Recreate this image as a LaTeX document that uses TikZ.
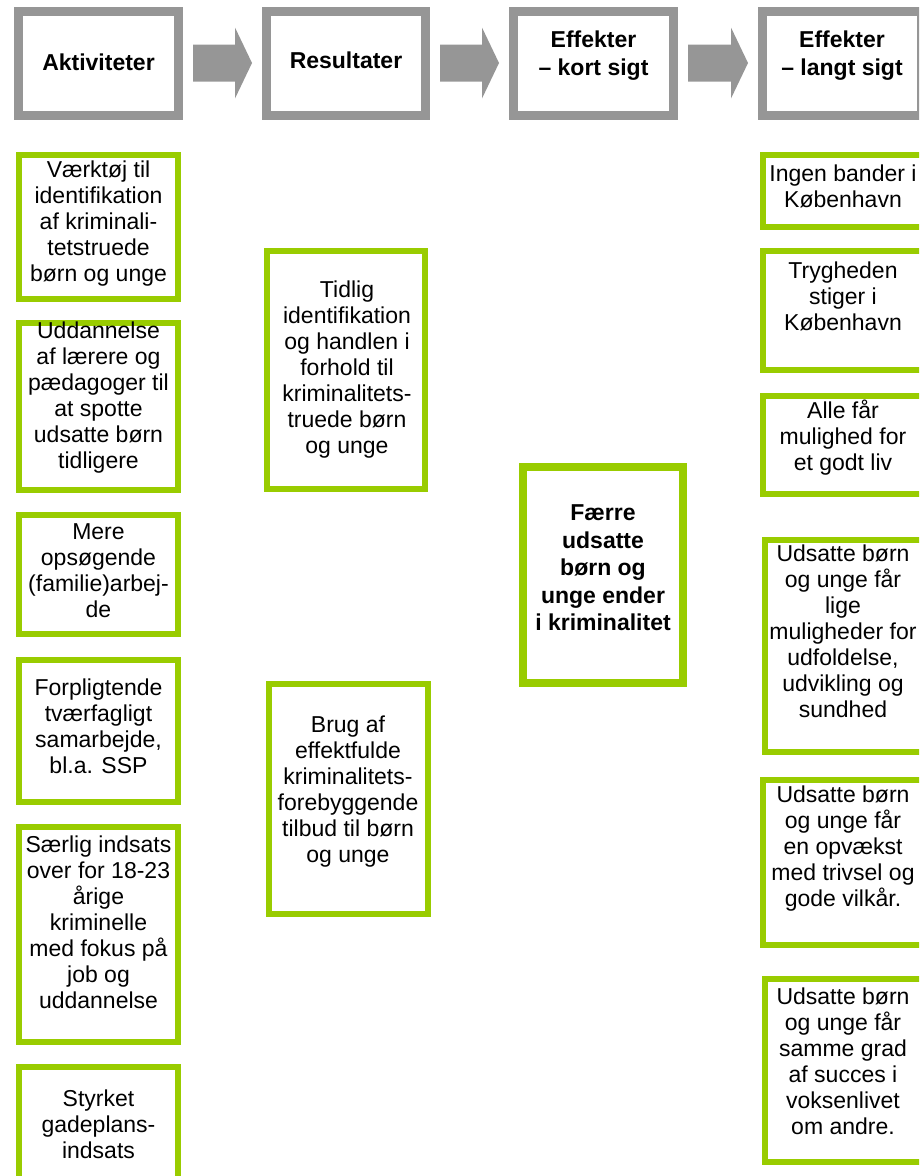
\documentclass[tikz,border=0pt]{standalone}
\usepackage{fontspec}
\setmainfont{Liberation Sans}
\usetikzlibrary{calc}
\definecolor{graa}{RGB}{150,150,150}
\definecolor{groen}{RGB}{153,204,0}
\tikzset{
  hoved/.style={draw=graa, line width=9pt, minimum width=160pt, minimum height=104pt, inner sep=0pt},
  hovedtekst/.style={align=center, font=\fontsize{23}{28}\selectfont\bfseries},
  boks/.style={draw=groen, line width=6pt, inner sep=0pt},
  tekst/.style={align=center, font=\fontsize{23}{26}\selectfont},
}
\begin{document}
\begin{tikzpicture}[x=1pt, y=-1pt]
      \useasboundingbox (0,0) rectangle (919,1176);
      \clip (0,0) rectangle (919,1176);
      % overskrifter
      \node [hoved] (akt) at (98.5,63) {};
      \node [hoved, minimum width=159pt] (res) at (346,63) {};
      \node [hoved] (kort) at (593.5,63) {};
      \node [hoved, minimum width=159pt] (lang) at (842,63) {};
      \node [hovedtekst] (akt-t) at (98.5,62) {Aktiviteter};
      \node [hovedtekst] (res-t) at (346,60) {Resultater};
      \node [hovedtekst] (kort-t) at (593.5,56) {Effekter\\– kort sigt};
      \node [hovedtekst] (lang-t) at (842,56) {Effekter\\– langt sigt};
      \foreach \fra/\til in {akt/res, res/kort, kort/lang}
        \fill [graa] ($(\fra.east)+(10,-18.5)$) -- ($(\til.west)+(-27,-18.5)$)
          -- ($(\til.west)+(-27,-35.5)$) -- ($(\til.west)+(-10,0)$)
          -- ($(\til.west)+(-27,35.5)$) -- ($(\til.west)+(-27,18.5)$)
          -- ($(\fra.east)+(10,18.5)$) -- cycle;
      % aktiviteter
      \node [boks, minimum width=159pt, minimum height=144pt] (a1) at (98.5,227) {};
      \node [boks, minimum width=159pt, minimum height=167pt] (a2) at (98.5,406.5) {};
      \node [boks, minimum width=159pt, minimum height=119pt] (a3) at (98.5,574.5) {};
      \node [boks, minimum width=159pt, minimum height=142pt] (a4) at (98.5,731) {};
      \node [boks, minimum width=159pt, minimum height=215pt] (a5) at (98.5,934.5) {};
      \node [boks, minimum width=159pt, minimum height=130pt] (a6) at (98.5,1132) {};
      \node [tekst] (a1-t) at (98.5,224) {Værktøj til\\identifikation\\af kriminali-\\tetstruede\\børn og unge};
      \node [tekst] (a2-t) at (98.5,397.5) {Uddannelse\\af lærere og\\pædagoger til\\at spotte\\udsatte børn\\tidligere};
      \node [tekst] (a3-t) at (98.5,571) {Mere\\opsøgende\\(familie)arbej-\\de};
      \node [tekst] (a4-t) at (98.5,726.5) {Forpligtende\\tværfagligt\\samarbejde,\\bl.a. SSP};
      \node [tekst] (a5-t) at (98.5,922) {Særlig indsats\\over for 18-23\\årige\\kriminelle\\med fokus på\\job og\\uddannelse};
      \node [tekst] (a6-t) at (98.5,1124) {Styrket\\gadeplans-\\indsats};
      % resultater
      \node [boks, minimum width=158pt, minimum height=238pt] (r1) at (346,370) {};
      \node [boks, minimum width=159pt, minimum height=230pt] (r2) at (348.5,799) {};
      \node [tekst] (r1-t) at (347,370) {Tidlig\\identifikation\\og handlen i\\forhold til\\kriminalitets-\\truede børn\\og unge};
      \node [tekst] (r2-t) at (348,792) {Brug af\\effektfulde\\kriminalitets-\\forebyggende\\tilbud til børn\\og unge};
      % effekter, kort sigt
      \node [boks, line width=8pt, minimum width=160pt, minimum height=216pt] (k1) at (603,575) {};
      \node [tekst, font=\fontsize{23}{27.5}\selectfont\bfseries] (k1-t) at (603,568) {Færre\\udsatte\\børn og\\unge ender\\i kriminalitet};
      % effekter, langt sigt
      \node [boks, minimum width=160pt, minimum height=72pt] (l1) at (843,191) {};
      \node [boks, minimum width=160pt, minimum height=119pt] (l2) at (843,310.5) {};
      \node [boks, minimum width=160pt, minimum height=98pt] (l3) at (843,445) {};
      \node [boks, minimum width=160pt, minimum height=212pt] (l4) at (845,646) {};
      \node [boks, minimum width=160pt, minimum height=165pt] (l5) at (843,862.5) {};
      \node [boks, minimum width=160pt, minimum height=183pt] (l6) at (845,1070.5) {};
      \node [tekst] (l1-t) at (843,186) {Ingen bander i\\København};
      \node [tekst] (l2-t) at (843,296) {Trygheden\\stiger i\\København};
      \node [tekst] (l3-t) at (843,438) {Alle får\\mulighed for\\et godt liv};
      \node [tekst] (l4-t) at (843,631.5) {Udsatte børn\\og unge får\\lige\\muligheder for\\udfoldelse,\\udvikling og\\sundhed};
      \node [tekst] (l5-t) at (843,849) {Udsatte børn\\og unge får\\en opvækst\\med trivsel og\\gode vilkår.};
      \node [tekst] (l6-t) at (843,1061) {Udsatte børn\\og unge får\\samme grad\\af succes i\\voksenlivet\\om andre.};
\end{tikzpicture}
\end{document}
